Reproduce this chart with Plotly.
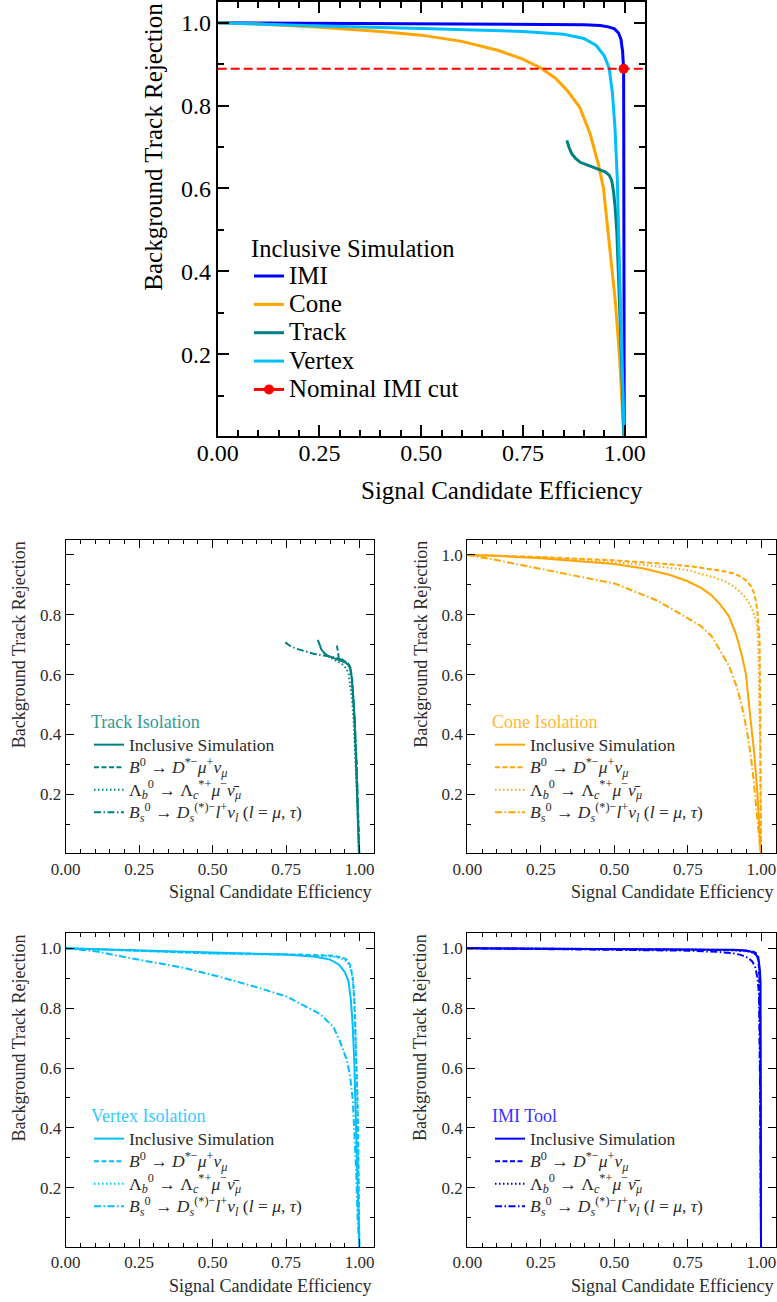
import plotly.graph_objects as go

# ---------------- data ----------------
# Top panel: inclusive simulation, each tool
imi_x = [0, 0.25, 0.5, 0.75, 0.9, 0.94, 0.96, 0.975, 0.985, 0.991, 0.995, 0.9975, 0.9985, 0.999]
imi_y = [1.0, 0.999, 0.998, 0.997, 0.995, 0.993, 0.99, 0.985, 0.975, 0.96, 0.93, 0.889, 0.5, 0.0]

cone_x = [0, 0.1, 0.25, 0.4, 0.5, 0.6, 0.69, 0.75, 0.795, 0.83, 0.86, 0.89, 0.915, 0.935, 0.948, 0.961, 0.970, 0.977, 0.987, 0.994, 0.998]
cone_y = [1.0, 0.997, 0.989, 0.979, 0.970, 0.955, 0.933, 0.912, 0.89, 0.866, 0.835, 0.795, 0.732, 0.66, 0.60, 0.473, 0.39, 0.328, 0.2, 0.085, 0.0]

track_x = [0.858, 0.863, 0.870, 0.880, 0.891, 0.91, 0.936, 0.952, 0.962, 0.968, 0.973, 0.977, 0.981, 0.984, 0.987, 0.990, 0.993, 0.996, 0.998]
track_y = [0.716, 0.70, 0.684, 0.672, 0.663, 0.656, 0.647, 0.64, 0.632, 0.62, 0.59, 0.55, 0.49, 0.42, 0.33, 0.25, 0.166, 0.07, 0.0]

vertex_x = [0, 0.25, 0.5, 0.75, 0.85, 0.9, 0.93, 0.95, 0.962, 0.97, 0.976, 0.982, 0.988, 0.993, 0.997, 0.999]
vertex_y = [1.0, 0.992, 0.986, 0.979, 0.972, 0.962, 0.945, 0.92, 0.89, 0.83, 0.75, 0.62, 0.38, 0.18, 0.06, 0.0]

cut_eff = [0.9975]
cut_rej = [0.889]

# Track isolation, per channel
track_b0_x = [0.923, 0.925, 0.929, 0.945, 0.96, 0.968, 0.974, 0.98, 0.986, 0.99, 0.994, 0.997, 0.999]
track_b0_y = [0.697, 0.675, 0.658, 0.648, 0.638, 0.625, 0.59, 0.5, 0.4, 0.3, 0.17, 0.07, 0.0]
track_lb_x = [0.88, 0.894, 0.92, 0.94, 0.955, 0.963, 0.968, 0.974, 0.98, 0.986, 0.991, 0.995, 0.998]
track_lb_y = [0.668, 0.661, 0.648, 0.636, 0.62, 0.603, 0.56, 0.524, 0.44, 0.33, 0.2, 0.08, 0.0]
track_bs_x = [0.747, 0.765, 0.787, 0.815, 0.843, 0.87, 0.90, 0.925, 0.946, 0.96, 0.968, 0.974, 0.979, 0.984, 0.989, 0.993, 0.996, 0.999]
track_bs_y = [0.708, 0.695, 0.686, 0.677, 0.670, 0.665, 0.661, 0.655, 0.647, 0.638, 0.625, 0.59, 0.53, 0.44, 0.32, 0.19, 0.08, 0.0]

# Cone isolation, per channel
cone_b0_x = [0, 0.25, 0.5, 0.65, 0.76, 0.80, 0.87, 0.906, 0.93, 0.951, 0.965, 0.974, 0.982, 0.987, 0.991, 0.994, 0.996, 0.998, 0.999]
cone_b0_y = [1.0, 0.993, 0.982, 0.972, 0.962, 0.957, 0.946, 0.938, 0.928, 0.913, 0.895, 0.876, 0.845, 0.809, 0.77, 0.72, 0.55, 0.25, 0.0]
cone_lb_x = [0, 0.25, 0.5, 0.65, 0.758, 0.792, 0.84, 0.883, 0.915, 0.94, 0.955, 0.968, 0.978, 0.985, 0.989, 0.992, 0.995, 0.997, 0.999]
cone_lb_y = [1.0, 0.992, 0.976, 0.962, 0.948, 0.937, 0.925, 0.909, 0.888, 0.865, 0.845, 0.82, 0.795, 0.775, 0.72, 0.6, 0.4, 0.2, 0.0]
cone_bs_x = [0, 0.1, 0.247, 0.4, 0.503, 0.645, 0.73, 0.792, 0.83, 0.86, 0.89, 0.917, 0.935, 0.951, 0.964, 0.974, 0.983, 0.991, 0.995, 0.998]
cone_bs_y = [1.0, 0.983, 0.954, 0.925, 0.904, 0.848, 0.80, 0.764, 0.73, 0.68, 0.63, 0.558, 0.49, 0.413, 0.33, 0.246, 0.16, 0.079, 0.035, 0.0]

# Vertex isolation, per channel
vtx_b0_x = [0, 0.25, 0.503, 0.8, 0.911, 0.945, 0.957, 0.968, 0.977, 0.982, 0.986, 0.99, 0.993, 0.996, 0.998, 0.999]
vtx_b0_y = [1.0, 0.992, 0.983, 0.979, 0.975, 0.968, 0.961, 0.944, 0.899, 0.821, 0.72, 0.6, 0.49, 0.3, 0.1, 0.0]
vtx_lb_x = [0, 0.25, 0.503, 0.8, 0.911, 0.945, 0.96, 0.972, 0.98, 0.985, 0.989, 0.992, 0.995, 0.998, 0.999]
vtx_lb_y = [1.0, 0.991, 0.982, 0.977, 0.972, 0.963, 0.952, 0.925, 0.87, 0.78, 0.66, 0.5, 0.3, 0.1, 0.0]
vtx_bs_x = [0, 0.1, 0.253, 0.4, 0.503, 0.65, 0.753, 0.8, 0.866, 0.911, 0.934, 0.957, 0.968, 0.977, 0.983, 0.988, 0.993, 0.997, 0.999]
vtx_bs_y = [1.0, 0.99, 0.961, 0.935, 0.91, 0.87, 0.838, 0.815, 0.78, 0.737, 0.687, 0.625, 0.57, 0.49, 0.38, 0.26, 0.1, 0.03, 0.0]

# IMI tool, per channel
imi_b0_x = [0, 0.25, 0.5, 0.75, 0.9, 0.95, 0.975, 0.985, 0.99, 0.993, 0.996, 0.998, 0.999]
imi_b0_y = [1.0, 0.999, 0.998, 0.997, 0.994, 0.992, 0.988, 0.982, 0.97, 0.93, 0.7, 0.3, 0.0]
imi_lb_x = [0, 0.25, 0.5, 0.75, 0.9, 0.95, 0.975, 0.985, 0.99, 0.993, 0.996, 0.998, 0.999]
imi_lb_y = [1.0, 0.999, 0.998, 0.996, 0.993, 0.99, 0.985, 0.975, 0.96, 0.92, 0.7, 0.3, 0.0]
imi_bs_x = [0, 0.25, 0.5, 0.75, 0.85, 0.9, 0.93, 0.955, 0.97, 0.98, 0.987, 0.992, 0.996, 0.999]
imi_bs_y = [1.0, 0.998, 0.996, 0.992, 0.988, 0.984, 0.978, 0.968, 0.955, 0.935, 0.9, 0.85, 0.5, 0.0]

top_names = ["IMI", "Cone", "Track", "Vertex", "Nominal IMI cut"]
channel_names = [
    "Inclusive Simulation",
    "<i>B</i><sup>0</sup> → <i>D</i><sup>*−</sup><i>μ</i><sup>+</sup><i>ν</i><sub><i>μ</i></sub>",
    "Λ<sub><i>b</i></sub><sup>0</sup> → Λ<sub><i>c</i></sub><sup>*+</sup><i>μ</i><sup>−</sup><i>ν̄</i><sub><i>μ</i></sub>",
    "<i>B</i><sub><i>s</i></sub><sup>0</sup> → <i>D</i><sub><i>s</i></sub><sup>(*)−</sup><i>l</i><sup>+</sup><i>ν</i><sub><i>l</i></sub> (<i>l</i> = <i>μ</i>, <i>τ</i>)",
]
panel_titles = ["Track Isolation", "Cone Isolation", "Vertex Isolation", "IMI Tool"]

# ---------------- style ----------------
SERIF = "Liberation Serif, Times New Roman, DejaVu Serif, serif"
BLUE, ORANGE, TEAL, SKY, RED = "#0000FF", "#FFA500", "#008080", "#00BFFF", "#FF0000"
TITLE_COLS = ["rgb(51,153,153)", "rgb(255,183,51)", "rgb(51,204,255)", "rgb(51,51,255)"]
W, H = 777, 1302
TOP_FS, BOT_FS = 24, 17
TOP_TITLE_FS, BOT_TITLE_FS = 25, 18
TOP_LEG_FS, BOT_LEG_FS = 25, 17.5
BOT_TXT = "#2b2b2b"


def sized(text, size):
    return f'<span style="font-size:{size}px">{text}</span>'


fig = go.Figure()

# ---- top panel
for name, xs, ys, col in [(top_names[0], imi_x, imi_y, BLUE), (top_names[1], cone_x, cone_y, ORANGE),
                          (top_names[2], track_x, track_y, TEAL), (top_names[3], vertex_x, vertex_y, SKY)]:
    fig.add_trace(go.Scatter(x=xs, y=ys, mode="lines", name=sized(name, TOP_LEG_FS),
                             line=dict(color=col, width=3),
                             xaxis="x", yaxis="y", legend="legend"))
fig.add_trace(go.Scatter(x=cut_eff, y=cut_rej, mode="lines+markers", name=sized(top_names[4], TOP_LEG_FS),
                         line=dict(color=RED, width=3), marker=dict(color=RED, size=10),
                         xaxis="x", yaxis="y", legend="legend"))

# ---- bottom panels
dashes = ["solid", "5px,2.5px", "1.5px,2.5px", "7px,2.5px,1.5px,2.5px"]
panels = [
    (TEAL, [(track_x, track_y), (track_b0_x, track_b0_y), (track_lb_x, track_lb_y), (track_bs_x, track_bs_y)]),
    (ORANGE, [(cone_x, cone_y), (cone_b0_x, cone_b0_y), (cone_lb_x, cone_lb_y), (cone_bs_x, cone_bs_y)]),
    (SKY, [(vertex_x, vertex_y), (vtx_b0_x, vtx_b0_y), (vtx_lb_x, vtx_lb_y), (vtx_bs_x, vtx_bs_y)]),
    (BLUE, [(imi_x, imi_y), (imi_b0_x, imi_b0_y), (imi_lb_x, imi_lb_y), (imi_bs_x, imi_bs_y)]),
]
for i, (col, curves) in enumerate(panels):
    k = i + 2
    for j, (xs, ys) in enumerate(curves):
        fig.add_trace(go.Scatter(x=xs, y=ys, mode="lines", name=sized(channel_names[j], BOT_LEG_FS),
                                 line=dict(color=col, width=2, dash=dashes[j]),
                                 xaxis=f"x{k}", yaxis=f"y{k}", legend=f"legend{k}"))

# ---------------- layout ----------------
def px_x(p):
    return p / W

def px_y(p):
    return 1 - p / H

def axis(fs, col, major, minor, lw):
    return dict(showline=True, linecolor="black", linewidth=lw, mirror="allticks",
                ticks="inside", ticklen=major, tickwidth=lw, tickcolor="black",
                showgrid=False, zeroline=False, fixedrange=True, automargin=False,
                tickfont=dict(family=SERIF, size=fs, color=col),
                minor=dict(ticks="inside", ticklen=minor, tickwidth=lw, tickcolor="black", showgrid=False))

boxes = {
    "": ((217.7, 645.0), (2.0, 435.7), TOP_FS, TOP_TITLE_FS, "#000000", 11, 6, 1.6, -5),
    "2": ((65.7, 374.3), (540.0, 853.3), BOT_FS, BOT_TITLE_FS, BOT_TXT, 8, 4, 1.2, 0),
    "3": ((467.3, 776.0), (540.0, 853.3), BOT_FS, BOT_TITLE_FS, BOT_TXT, 8, 4, 1.2, 0),
    "4": ((65.7, 374.3), (933.3, 1246.7), BOT_FS, BOT_TITLE_FS, BOT_TXT, 8, 4, 1.2, 0),
    "5": ((467.3, 776.0), (933.3, 1246.7), BOT_FS, BOT_TITLE_FS, BOT_TXT, 8, 4, 1.2, 0),
}
lay = {}
annotations = []
for key, ((x0, x1), (y0, y1), fs, tfs, col, maj, mnr, lw, stand) in boxes.items():
    xa = axis(fs, col, maj, mnr, lw)
    xa.update(domain=[px_x(x0), px_x(x1)], range=[0, 1.05], tick0=0, dtick=0.25, tickformat=".2f",
              anchor="y" + key, ticklabelstandoff=stand)
    xa["minor"].update(tick0=0, dtick=0.05)
    ya = axis(fs, col, maj, mnr, lw)
    ya.update(domain=[px_y(y1), px_y(y0)], range=[0.003, 1.05], tick0=0, dtick=0.2, tickformat=".1f",
              anchor="x" + key)
    ya["minor"].update(tick0=0, dtick=0.1)
    if key == "2":
        ya.update(tickmode="array", tickvals=[0.2, 0.4, 0.6, 0.8, 1.0],
                  ticktext=["0.2", "0.4", "0.6", "0.8", ""])
    lay["xaxis" + key] = xa
    lay["yaxis" + key] = ya
    # axis titles (matplotlib style: x right-aligned, y top-aligned)
    xt_y = y1 + (55 if key == "" else 39)
    yt_x = x0 - (65 if key == "" else 47)
    annotations.append(dict(text="Signal Candidate Efficiency", xref="paper", yref="paper",
                            x=px_x(x1), y=px_y(xt_y), xanchor="right", yanchor="middle",
                            showarrow=False, font=dict(family=SERIF, size=tfs, color=col)))
    annotations.append(dict(text="Background Track Rejection", xref="paper", yref="paper",
                            x=px_x(yt_x), y=px_y(y0 - 1), xanchor="center", yanchor="top", textangle=-90,
                            showarrow=False, font=dict(family=SERIF, size=tfs, color=col)))

# dashed cut line across the top panel
shapes = [dict(type="line", xref="x domain", yref="y", x0=0, x1=1, y0=cut_rej[0], y1=cut_rej[0],
               line=dict(color=RED, width=2, dash="9px,4px"))]

legend_common = dict(bgcolor="rgba(0,0,0,0)", borderwidth=0, xanchor="left", yanchor="top",
                     traceorder="normal")
lay["legend"] = dict(legend_common, x=px_x(249), y=px_y(225),
                     font=dict(family=SERIF, size=19.5, color="#000000"),
                     title=dict(text="Inclusive Simulation", side="top",
                                font=dict(family=SERIF, size=24.5, color="#000000")))
leg_pos = {"2": (89, 705), "3": (490, 705), "4": (89, 1099), "5": (490, 1099)}
for i, key in enumerate(["2", "3", "4", "5"]):
    lx, ly = leg_pos[key]
    lay["legend" + key] = dict(legend_common, x=px_x(lx), y=px_y(ly),
                               font=dict(family=SERIF, size=15, color=BOT_TXT),
                               title=dict(text=panel_titles[i], side="top",
                                          font=dict(family=SERIF, size=18, color=TITLE_COLS[i])))

fig.update_layout(width=W, height=H, margin=dict(l=0, r=0, t=0, b=0, autoexpand=False),
                  paper_bgcolor="white", plot_bgcolor="white",
                  annotations=annotations, shapes=shapes, **lay)

fig.write_html("out.html")
